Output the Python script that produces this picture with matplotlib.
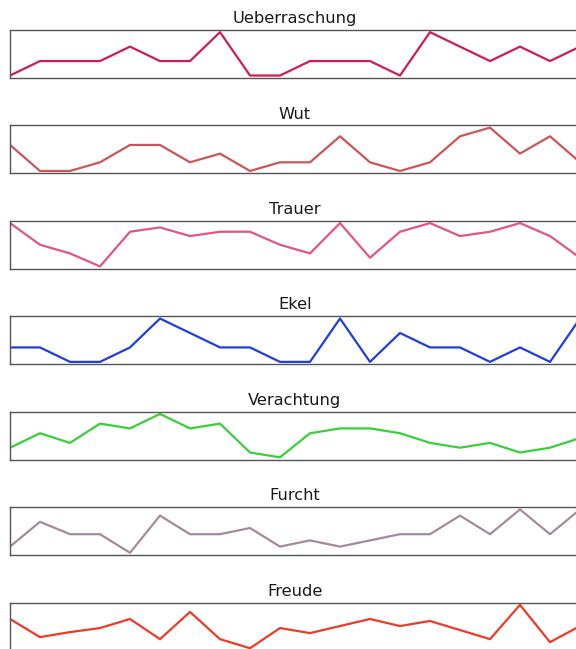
import matplotlib
matplotlib.use("Agg")
import matplotlib.pyplot as plt
import numpy as np

# emotion time series (20 steps each)
titles = ["Ueberraschung", "Wut", "Trauer", "Ekel", "Verachtung", "Furcht", "Freude"]

ueberraschung = [0, 1, 1, 1, 2, 1, 1, 3, 0, 0, 1, 1, 1, 0, 3, 2, 1, 2, 1, 2]
wut = [3, 0, 0, 1, 3, 3, 1, 2, 0, 1, 1, 4, 1, 0, 1, 4, 5, 2, 4, 1]
trauer = [10, 5, 3, 0, 8, 9, 7, 8, 8, 5, 3, 10, 2, 8, 10, 7, 8, 10, 7, 2]
ekel = [1, 1, 0, 0, 1, 3, 2, 1, 1, 0, 0, 3, 0, 2, 1, 1, 0, 1, 0, 3]
verachtung = [2, 5, 3, 7, 6, 9, 6, 7, 1, 0, 5, 6, 6, 5, 3, 2, 3, 1, 2, 4]
furcht = [1, 5, 3, 3, 0, 6, 3, 3, 4, 1, 2, 1, 2, 3, 3, 6, 3, 7, 3, 7]
freude = [29, 11, 16, 20, 29, 9, 36, 9, 0, 20, 15, 22, 29, 22, 27, 18, 9, 43, 6, 22]

series = [ueberraschung, wut, trauer, ekel, verachtung, furcht, freude]
colors = ["#cf1b5b", "#cc5558", "#e2567f", "#1f3ee0", "#38d038", "#a48a9c", "#f03a26"]

W, H = 576, 649
fig = plt.figure(figsize=(W / 100, H / 100), dpi=100)

# axes run from x=10px to x=580px, so the right border falls just outside the image
left = 10 / W
width = 570 / W
ax_h = 47.7 / H
for i, (name, vals, col) in enumerate(zip(titles, series, colors)):
    top = 30 + 95.45 * i
    ax = fig.add_axes([left, 1 - (top + 47.7) / H, width, ax_h])
    x = np.arange(len(vals))
    ax.plot(x, vals, color=col, lw=1.6)
    ax.set_xlim(0, len(vals) - 1)
    ax.set_xticks([])
    ax.set_yticks([])
    for s in ax.spines.values():
        s.set_color("#555555")
        s.set_linewidth(1.0)
    ax.set_title(name, fontsize=11.7, pad=5, color="#1a1a1a")

fig.savefig("out.png", dpi=100)
